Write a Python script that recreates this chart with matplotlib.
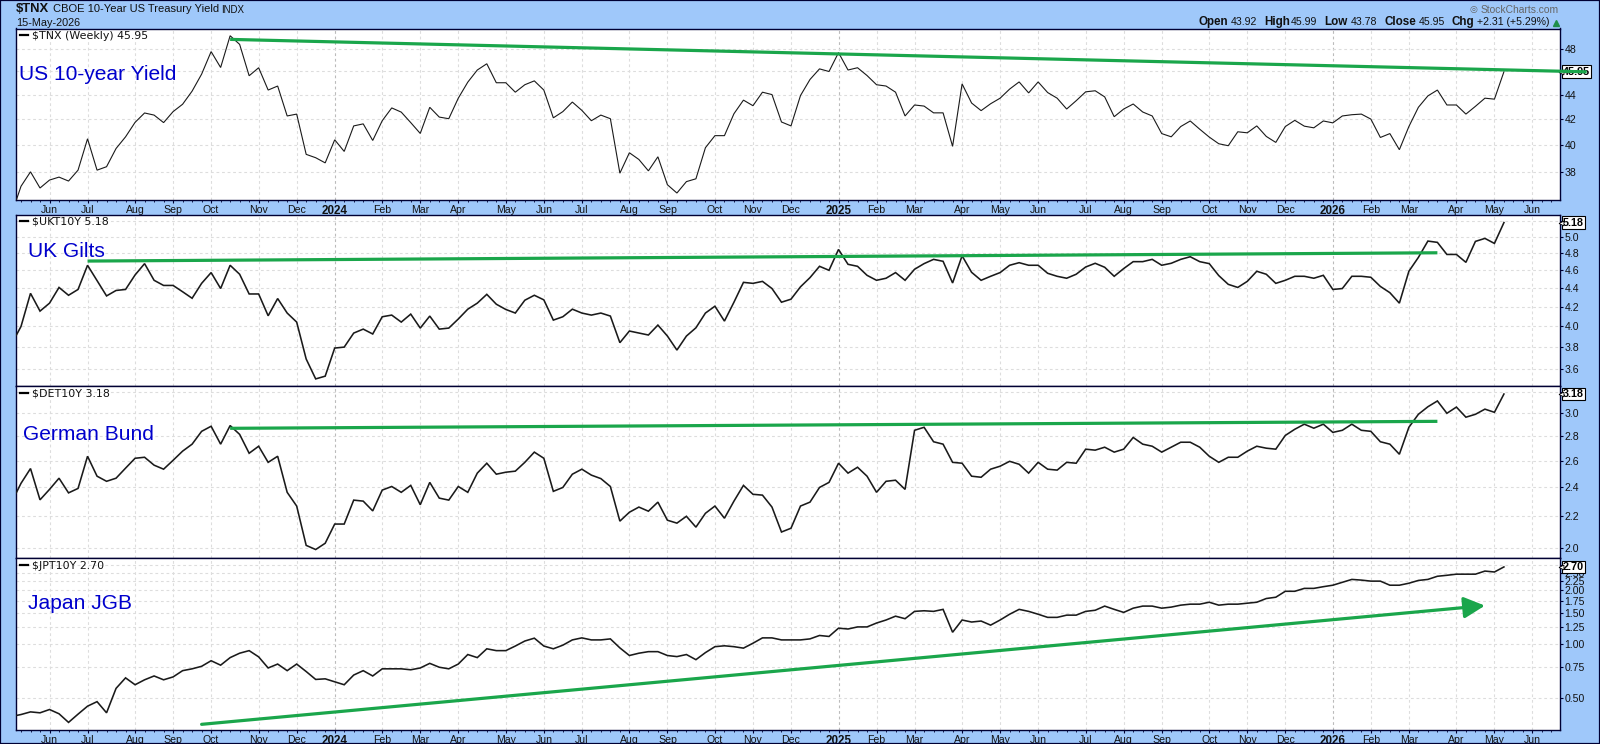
import numpy as np
import matplotlib
matplotlib.use("Agg")
import matplotlib.pyplot as plt
from matplotlib.patches import Rectangle
from matplotlib.ticker import NullLocator, FixedLocator, FixedFormatter
from matplotlib.transforms import blended_transform_factory

# ---------- data ----------
tnx = [36.0, 36.97, 38.0, 36.85, 37.41, 37.62, 37.34, 38.12, 40.46, 38.12, 38.37, 39.72, 40.61, 41.74, 42.49, 42.32, 41.72, 42.6, 43.2, 44.29, 45.74, 47.74, 46.32, 49.2, 48.4, 45.6, 46.3, 44.38, 44.72, 42.25, 42.4, 39.28, 39.03, 38.65, 40.38, 39.5, 41.46, 41.62, 40.33, 41.87, 42.9, 42.56, 41.72, 40.87, 42.95, 42.16, 42.03, 43.7, 45.05, 46.1, 46.65, 45.0, 45.0, 44.2, 44.83,
       45.16, 44.38, 42.1, 42.6, 43.38, 42.7, 41.87, 42.32, 42.03, 37.9, 39.4, 38.9, 38.07, 39.1, 37.08, 36.5, 37.3, 37.5, 39.78, 40.7, 40.7, 42.43, 43.54, 43.08, 44.2, 44.0, 41.77, 41.46, 43.92, 45.28, 46.2, 45.97, 47.65, 46.1, 46.3, 45.62, 44.83, 44.72, 44.2, 42.25, 43.14, 43.05, 42.5, 42.5, 39.88, 44.9, 43.3, 42.68, 43.24, 43.7, 44.46, 45.07, 44.14, 45.07, 44.17, 43.7,
       42.81, 43.49, 44.23, 44.32, 43.81, 42.19, 42.81, 43.22, 42.57, 42.25, 40.86, 40.61, 41.41, 41.85, 41.2, 40.59, 40.08, 39.93, 41.0, 40.92, 41.46, 40.64, 40.18, 41.41, 41.9, 41.44, 41.31, 41.85, 41.7, 42.25, 42.35, 42.4, 42.0, 40.56, 40.86, 39.63, 41.41, 42.95, 43.89, 44.38, 43.14, 43.14, 42.4, 43.03, 43.7, 43.62, 45.95]
ukt = [3.913, 4.0, 4.344, 4.156, 4.239, 4.408, 4.323, 4.386, 4.658, 4.483, 4.316, 4.375, 4.386, 4.547, 4.677, 4.487, 4.43, 4.43, 4.361, 4.291, 4.453, 4.574, 4.396, 4.658, 4.555, 4.337, 4.337, 4.108, 4.288, 4.136, 4.044, 3.689, 3.511, 3.535, 3.791, 3.8, 3.935, 3.974, 3.926, 4.098, 4.115, 4.044, 4.125, 3.984, 4.105, 3.974, 3.984, 4.075, 4.176, 4.239, 4.333, 4.228, 4.173, 4.136, 4.27,
       4.323, 4.274, 4.064, 4.098, 4.176, 4.136, 4.115, 4.136, 4.105, 3.842, 3.955, 3.935, 3.916, 4.014, 3.906, 3.772, 3.906, 3.987, 4.136, 4.207, 4.054, 4.249, 4.464, 4.453, 4.475, 4.396, 4.249, 4.281, 4.415, 4.517, 4.646, 4.6, 4.845, 4.669, 4.646, 4.543, 4.487, 4.51, 4.574, 4.487, 4.612, 4.677, 4.727, 4.704, 4.457, 4.769, 4.577, 4.487, 4.532, 4.574, 4.658, 4.688, 4.658, 4.658, 4.566, 4.532,
       4.51, 4.555, 4.638, 4.681, 4.635, 4.532, 4.62, 4.7, 4.7, 4.727, 4.658, 4.681, 4.727, 4.758, 4.7, 4.677, 4.54, 4.442, 4.408, 4.475, 4.589, 4.555, 4.453, 4.487, 4.532, 4.532, 4.51, 4.543, 4.386, 4.396, 4.532, 4.532, 4.521, 4.419, 4.351, 4.239, 4.589, 4.75, 4.947, 4.931, 4.785, 4.785, 4.692, 4.943, 4.98, 4.918, 5.18]
det = [2.359, 2.428, 2.539, 2.31, 2.384, 2.466, 2.359, 2.391, 2.635, 2.481, 2.443, 2.466, 2.542, 2.619, 2.627, 2.565, 2.534, 2.603, 2.676, 2.733, 2.841, 2.885, 2.733, 2.891, 2.815, 2.659, 2.716, 2.587, 2.635, 2.363, 2.267, 2.013, 1.988, 2.026, 2.147, 2.147, 2.308, 2.301, 2.234, 2.379, 2.405, 2.363, 2.413, 2.276, 2.435, 2.322, 2.308, 2.405, 2.363, 2.504, 2.58, 2.496, 2.511, 2.519, 2.587,
       2.668, 2.619, 2.37, 2.398, 2.496, 2.534, 2.489, 2.463, 2.405, 2.166, 2.225, 2.26, 2.232, 2.294, 2.172, 2.153, 2.198, 2.127, 2.218, 2.267, 2.185, 2.301, 2.413, 2.349, 2.343, 2.26, 2.096, 2.12, 2.267, 2.294, 2.398, 2.435, 2.58, 2.504, 2.549, 2.481, 2.363, 2.443, 2.451, 2.384, 2.85, 2.876, 2.753, 2.733, 2.587, 2.58, 2.481, 2.473, 2.534, 2.557, 2.595, 2.572, 2.504, 2.587, 2.534, 2.527,
       2.587, 2.58, 2.692, 2.684, 2.708, 2.668, 2.692, 2.789, 2.733, 2.716, 2.668, 2.708, 2.749, 2.749, 2.708, 2.635, 2.587, 2.627, 2.627, 2.676, 2.716, 2.7, 2.692, 2.806, 2.859, 2.903, 2.868, 2.903, 2.832, 2.85, 2.903, 2.85, 2.841, 2.753, 2.733, 2.651, 2.876, 2.991, 3.06, 3.114, 3.0, 3.057, 2.965, 2.991, 3.038, 3.009, 3.18]
jpt = [0.401, 0.406, 0.42, 0.415, 0.433, 0.41, 0.367, 0.408, 0.452, 0.479, 0.415, 0.568, 0.65, 0.595, 0.634, 0.666, 0.634, 0.658, 0.713, 0.73, 0.754, 0.81, 0.765, 0.843, 0.892, 0.922, 0.851, 0.738, 0.776, 0.713, 0.776, 0.705, 0.637, 0.642, 0.618, 0.595, 0.674, 0.713, 0.666, 0.73, 0.73, 0.73, 0.721, 0.738, 0.783, 0.745, 0.73, 0.776, 0.877, 0.843, 0.944, 0.922, 0.922, 0.978, 1.043,
       1.082, 0.978, 0.944, 0.989, 1.058, 1.086, 1.058, 1.058, 1.072, 0.955, 0.866, 0.892, 0.91, 0.91, 0.866, 0.854, 0.877, 0.821, 0.899, 0.97, 0.981, 0.97, 0.952, 1.014, 1.086, 1.086, 1.058, 1.058, 1.058, 1.072, 1.12, 1.106, 1.23, 1.217, 1.25, 1.25, 1.314, 1.366, 1.435, 1.389, 1.526, 1.538, 1.526, 1.566, 1.167, 1.366, 1.331, 1.348, 1.279, 1.366, 1.471, 1.566, 1.526, 1.471, 1.413, 1.413,
       1.454, 1.454, 1.526, 1.548, 1.633, 1.566, 1.506, 1.59, 1.633, 1.633, 1.59, 1.612, 1.653, 1.674, 1.674, 1.716, 1.653, 1.674, 1.674, 1.695, 1.716, 1.8, 1.83, 1.975, 1.975, 2.05, 2.05, 2.095, 2.135, 2.215, 2.3, 2.28, 2.25, 2.25, 2.135, 2.135, 2.19, 2.27, 2.3, 2.395, 2.425, 2.46, 2.46, 2.46, 2.56, 2.53, 2.70]
first_week = [-0.5]                      # series enters at the left edge
month_weeks = [3, 7, 12, 16, 20, 25, 29, 33, 38, 42, 46, 51, 55, 59, 64, 68, 73, 77, 81, 86, 90, 94, 99, 103, 107,
               112, 116, 120, 125, 129, 133, 138, 142, 146, 151, 155, 159]
month_labels = ["Jun", "Jul", "Aug", "Sep", "Oct", "Nov", "Dec", "2024", "Feb", "Mar", "Apr", "May", "Jun", "Jul", "Aug", "Sep", "Oct", "Nov", "Dec", "2025", "Feb", "Mar", "Apr", "May", "Jun",
                "Jul", "Aug", "Sep", "Oct", "Nov", "Dec", "2026", "Feb", "Mar", "Apr", "May", "Jun"]
tnx_ticks = [38, 40, 42, 44, 46, 48]
ukt_ticks = [3.6, 3.8, 4.0, 4.2, 4.4, 4.6, 4.8, 5.0, 5.2]
det_ticks = [2.0, 2.2, 2.4, 2.6, 2.8, 3.0, 3.2]
jpt_ticks = [0.5, 0.75, 1.0, 1.25, 1.5, 1.75, 2.0, 2.25, 2.5, 2.75]
hidden_tick_labels = [46, 5.2, 3.2, 2.75]   # these sit behind the value tags in the reference
tnx_trend_x, tnx_trend_y = [22, 164.7], [48.86, 45.94]
ukt_trend_x, ukt_trend_y = [7, 149], [4.707, 4.805]
det_trend_x, det_trend_y = [22, 149], [2.867, 2.928]
jpt_trend_x, jpt_trend_y = [19, 154], [0.358, 1.643]

# ---------- layout ----------
W, H = 1600, 744
BG = "#9fc8fa"
NAVY = "#000033"
GREEN = "#1aa64b"
BLUE = "#0000cc"
L, R = 16.2, 1560.0
SANS = "Liberation Sans"
plt.rcParams["font.family"] = [SANS, "DejaVu Sans"]

fig = plt.figure(figsize=(W / 100, H / 100), dpi=100, facecolor=BG)
fx = lambda x: x / W
fy = lambda y: 1 - y / H

def txt(x, y, s, **kw):
    kw.setdefault("va", "center")
    kw.setdefault("ha", "left")
    kw.setdefault("fontsize", 7.6)
    kw.setdefault("color", "#111111")
    return fig.text(fx(x), fy(y), s, parse_math=False, **kw)

fig.add_artist(Rectangle((0, 0), 1, 1, transform=fig.transFigure, fill=False, ec=NAVY, lw=1.6))

weeks = np.concatenate((first_week, np.arange(len(tnx) - 1)))
XPX0, XPXS = 21.0, 9.506
xlim = ((L - XPX0) / XPXS, (R - XPX0) / XPXS)
minor_weeks = np.arange(0, 162)

def panel(top, bot, series, ticks, fmt, ylim, lw, legend, bottom_axis, trend):
    ax = fig.add_axes([fx(L), fy(bot), (R - L) / W, (bot - top) / H])
    ax.set_facecolor("white")
    ax.set_yscale("log")
    ax.set_xlim(*xlim)
    ax.set_ylim(*ylim)
    for s in ax.spines.values():
        s.set_color(NAVY)
        s.set_linewidth(1.0)
    ax.yaxis.tick_right()
    ax.yaxis.set_major_locator(FixedLocator(ticks))
    ax.yaxis.set_major_formatter(FixedFormatter(
        ["" if t in hidden_tick_labels else fmt.format(t) for t in ticks]))
    ax.yaxis.set_minor_locator(NullLocator())
    ax.tick_params(axis="y", which="major", length=2.2, width=0.8, color=NAVY, pad=1.0,
                   labelsize=7.6, labelcolor="#111111")
    ax.grid(axis="y", color="#dddddd", lw=0.8, ls=(0, (2.5, 2.5)))
    ax.set_axisbelow(True)
    ax.set_xticks([])
    for w, lab in zip(month_weeks, month_labels):
        is_year = lab.isdigit()
        ax.axvline(w, color="#bbbbbb" if is_year else "#dddddd", lw=0.8, ls=(0, (2.5, 2.5)), zorder=0.5)
    if bottom_axis:
        ax.set_xticks(minor_weeks, minor=True)
        ax.set_xticks(month_weeks)
        ax.set_xticklabels(month_labels)
        for t, lab in zip(ax.get_xticklabels(), month_labels):
            t.set_fontsize(8.4 if lab.isdigit() else 7.6)
            t.set_fontweight("bold" if lab.isdigit() else "normal")
            t.set_color("#111111")
        ax.tick_params(axis="x", which="major", length=2.5, width=0.8, color=NAVY, pad=0.8)
        ax.tick_params(axis="x", which="minor", length=1.5, width=0.6, color=NAVY)
    ax.plot(weeks, series, color="#1a1a1a", lw=lw, solid_joinstyle="miter", zorder=3)
    # value tag
    tr = blended_transform_factory(ax.transAxes, ax.transData)
    val = series[-1]
    ax.text(1.0 + 3.0 / (R - L), val, f"{val:.2f}",
            transform=tr, ha="left", va="center", fontsize=7.8, fontweight="bold", color="black",
            clip_on=False, zorder=6, parse_math=False,
            bbox=dict(boxstyle="square,pad=0.12", fc="white", ec="black", lw=0.8))
    ax.plot([1.0 + 1.0 / (R - L)], [val], marker="<", ms=3.5, mfc="white", mec="black", mew=0.6,
            transform=tr, clip_on=False, zorder=7)
    # legend
    fig.add_artist(plt.Line2D([fx(19.6), fx(27.7)], [fy(top + 6.6)] * 2, color="black", lw=1.6,
                              transform=fig.transFigure, zorder=8))
    txt(31.5, top + 7.3, legend, family="DejaVu Sans", fontsize=7.9, zorder=8)
    if trend is not None:
        ax.plot(trend[0], trend[1], color=GREEN, lw=2.3, clip_on=False, zorder=8,
                solid_capstyle="butt")
    return ax

ax1 = panel(28.5, 200.3, tnx, tnx_ticks, "{:.0f}", (36.0, 49.88), 0.8, "$TNX (Weekly) 45.95", True,
            (tnx_trend_x, tnx_trend_y))
ax2 = panel(214.5, 386.3, ukt, ukt_ticks, "{:.1f}", (3.447, 5.285), 1.15, "$UKT10Y 5.18", False,
            (ukt_trend_x, ukt_trend_y))
ax3 = panel(386.3, 558.3, det, det_ticks, "{:.1f}", (1.936, 3.255), 1.15, "$DET10Y 3.18", False,
            (det_trend_x, det_trend_y))
ax4 = panel(558.3, 730.3, jpt, jpt_ticks, "{:.2f}", (0.3316, 3.016), 1.15, "$JPT10Y 2.70", True, None)
ax4.annotate("", xy=(jpt_trend_x[1], jpt_trend_y[1]), xytext=(jpt_trend_x[0], jpt_trend_y[0]),
             arrowprops=dict(arrowstyle="-|>,head_length=0.75,head_width=0.38", color=GREEN, lw=2.3,
                             mutation_scale=17, shrinkA=0, shrinkB=0), zorder=8)

# blue pane captions
cap = dict(color=BLUE, fontsize=15.1, va="baseline", zorder=9)
txt(18.6, 80, "US 10-year Yield", **cap)
txt(28, 256.7, "UK Gilts", **cap)
txt(22.6, 439.7, "German Bund", **cap)
txt(27.7, 609, "Japan JGB", **cap)

# header
txt(16, 9.5, "$TNX", fontweight="bold", fontsize=9.4)
txt(53, 9.3, "CBOE 10-Year US Treasury Yield", fontsize=8.0)
txt(221, 9.6, "INDX", fontsize=7.0)
txt(16, 22.5, "15-May-2026", fontsize=7.8)
zx = lambda z: 1060 + z / 2.904
txt(zx(1448), 9.6, "StockCharts.com", ha="right", fontsize=7.4, color="#666666")
txt(zx(1188), 9.4, "\u25ce", family="DejaVu Sans", fontsize=6.5, color="#666666")
row = [(403, "Open", True), (497, "43.92", False), (592, "High", True), (671, "45.99", False),
       (766, "Low", True), (845, "43.78", False), (941, "Close", True), (1041, "45.95", False),
       (1138, "Chg", True), (1211, "+2.31 (+5.29%)", False)]
for z, s, b in row:
    txt(zx(z), 22.4, s, fontweight="bold" if b else "normal", fontsize=8.4 if b else 7.6)
fig.add_artist(plt.Line2D([fx(zx(1439))], [fy(23.2)], marker="^", ms=4.6, color="#1f8f4a", ls="none",
                          transform=fig.transFigure))

fig.savefig("out.png", dpi=100, facecolor=BG)
